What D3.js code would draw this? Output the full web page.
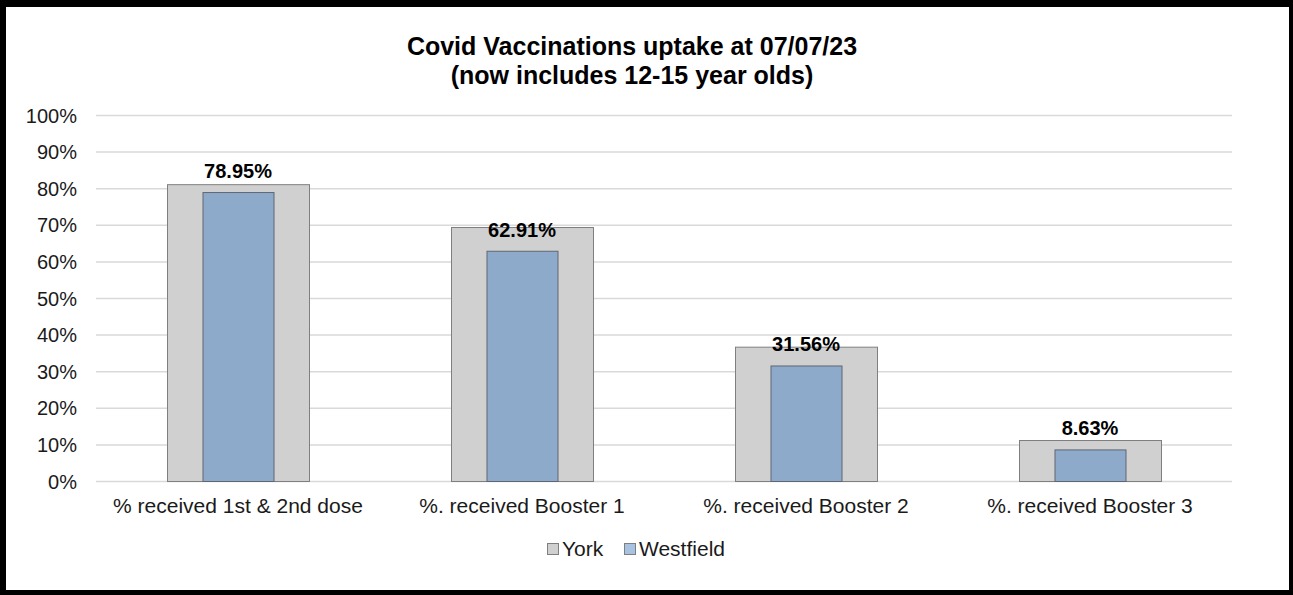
<!DOCTYPE html>
<html>
<head>
<meta charset="utf-8">
<script src="https://cdn.jsdelivr.net/npm/d3@7"></script>
<style>
  body { margin: 0; background: #fff; }
  text { font-family: "Liberation Sans", Arial, sans-serif; }
</style>
</head>
<body>
<script>
(function () {

var categories = ["% received 1st & 2nd dose", "%. received Booster 1", "%. received Booster 2", "%. received Booster 3"]
var york = [81.1, 69.4, 36.7, 11.2]
var westfield = [78.95, 62.91, 31.56, 8.63]
var yTicks = [0, 10, 20, 30, 40, 50, 60, 70, 80, 90, 100]
var titleLines = ["Covid Vaccinations uptake at 07/07/23", "(now includes 12-15 year olds)"]
var seriesNames = ["York", "Westfield"]

var width = 1293,
    height = 595

var svg = d3.select("body")
  .append("svg")
  .attr("width", width)
  .attr("height", height)

var x = d3.scaleBand().domain(categories).range([96, 1232]).paddingInner(0.5).paddingOuter(0.25)
var y = d3.scaleLinear().domain([0, 100]).range([481, 115])

// gridlines
svg.append("g")
  .selectAll("line")
  .data(yTicks)
  .enter().append("line")
  .attr("x1", 96)
  .attr("x2", 1232)
  .attr("y1", function(d) { return y(d) + 0.5 })
  .attr("y2", function(d) { return y(d) + 0.5 })
  .attr("stroke", "#d9d9d9")
  .attr("stroke-width", 1.5)

// y labels
svg.append("g")
  .selectAll("text")
  .data(yTicks)
  .enter().append("text")
  .attr("x", 77)
  .attr("y", function(d) { return y(d) + 7.5 })
  .attr("text-anchor", "end")
  .attr("font-size", "20px")
  .attr("fill", "#1a1a1a")
  .text(function(d) { return d + "%" })

// york bars
svg.append("g")
  .selectAll("rect")
  .data(york)
  .enter().append("rect")
  .attr("x", function(d, i) { return x(categories[i]) + 0.5 })
  .attr("y", function(d) { return y(d) + 0.5 })
  .attr("width", x.bandwidth())
  .attr("height", function(d) { return y(0) - y(d) })
  .attr("fill", "#d0d0d0")
  .attr("stroke", "#7f7f7f")
  .attr("stroke-width", 1)

// westfield bars
svg.append("g")
  .selectAll("rect")
  .data(westfield)
  .enter().append("rect")
  .attr("x", function(d, i) { return x(categories[i]) + x.bandwidth() / 4 + 0.5 })
  .attr("y", function(d) { return y(d) + 0.5 })
  .attr("width", x.bandwidth() / 2)
  .attr("height", function(d) { return y(0) - y(d) })
  .attr("fill", "#8eaacb")
  .attr("stroke", "#5f6670")
  .attr("stroke-width", 1)

// data labels
svg.append("g")
  .selectAll("text")
  .data(westfield)
  .enter().append("text")
  .attr("x", function(d, i) { return x(categories[i]) + x.bandwidth() / 2 })
  .attr("y", function(d) { return y(d) - 14 })
  .attr("text-anchor", "middle")
  .attr("font-size", "20px")
  .attr("font-weight", "bold")
  .attr("fill", "#000")
  .text(function(d) { return d.toFixed(2) + "%" })

// x labels
svg.append("g")
  .selectAll("text")
  .data(categories)
  .enter().append("text")
  .attr("x", function(d) { return x(d) + x.bandwidth() / 2 })
  .attr("y", 513)
  .attr("text-anchor", "middle")
  .attr("font-size", "21px")
  .attr("fill", "#1a1a1a")
  .text(function(d) { return d })

// title
svg.append("g")
  .selectAll("text")
  .data(titleLines)
  .enter().append("text")
  .attr("x", 632)
  .attr("y", function(d, i) { return 55 + i * 29 })
  .attr("text-anchor", "middle")
  .attr("font-size", "25px")
  .attr("font-weight", "bold")
  .attr("fill", "#000")
  .text(function(d) { return d })

// legend
var legendX = [547, 624]
var legendFill = ["#d0d0d0", "#a8c2e2"]
var legend = svg.append("g")
  .selectAll("g")
  .data(seriesNames)
  .enter().append("g")
  .attr("transform", function(d, i) { return "translate(" + legendX[i] + " 543)" })

legend.append("rect")
  .attr("x", 0.5)
  .attr("y", 0.5)
  .attr("width", 11)
  .attr("height", 11)
  .attr("fill", function(d, i) { return legendFill[i] })
  .attr("stroke", "#7f7f7f")

legend.append("text")
  .attr("x", 15)
  .attr("y", 13)
  .attr("font-size", "21px")
  .attr("fill", "#1a1a1a")
  .text(function(d) { return d })

// frame
var frame = [
  [0, 0, width, 7],
  [0, 0, 6, height],
  [1289, 0, 4, height],
  [0, 590, width, 5]
]
svg.append("g")
  .selectAll("rect")
  .data(frame)
  .enter().append("rect")
  .attr("x", function(d) { return d[0] })
  .attr("y", function(d) { return d[1] })
  .attr("width", function(d) { return d[2] })
  .attr("height", function(d) { return d[3] })
  .attr("fill", "#000")

}())
</script>
</body>
</html>
